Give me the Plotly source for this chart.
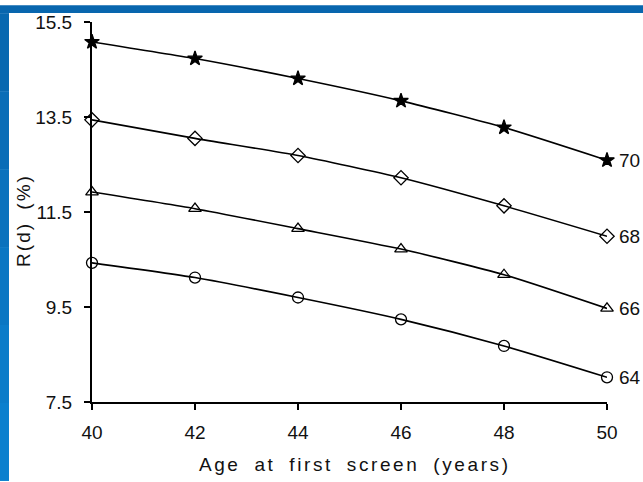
import plotly.graph_objects as go

ages = [40, 42, 44, 46, 48, 50]
series_labels = ["70", "68", "66", "64"]
r70 = [15.08, 14.73, 14.31, 13.84, 13.28, 12.59]
r68 = [13.44, 13.05, 12.69, 12.22, 11.63, 10.99]
r66 = [11.92, 11.57, 11.15, 10.72, 10.18, 9.47]
r64 = [10.43, 10.12, 9.70, 9.24, 8.68, 8.02]
x_ticks = [40, 42, 44, 46, 48, 50]
y_ticks = [7.5, 9.5, 11.5, 13.5, 15.5]

series = [r70, r68, r66, r64]
symbols = ["star", "diamond-open", "triangle-up-open", "circle-open"]
sizes = [11, 11, 11, 11]

W, H = 643, 482
L, R, T, B = 92, 36, 17, 80
pw, ph = W - L - R, H - T - B
FONT = "Liberation Sans, Arial, Helvetica"

fig = go.Figure()
for vals, sym, sz in zip(series, symbols, sizes):
    fig.add_trace(go.Scatter(
        x=ages, y=vals, mode="lines+markers",
        line=dict(color="black", width=1.6, shape="spline", smoothing=0.6),
        marker=dict(symbol=sym, size=sz, color="black",
                    line=dict(color="black", width=1.3)),
        showlegend=False, cliponaxis=False,
    ))

for vals, lab in zip(series, series_labels):
    fig.add_annotation(x=ages[-1], y=vals[-1], text=lab, showarrow=False,
                       xanchor="left", yanchor="middle", xshift=10, yshift=0,
                       font=dict(family=FONT, size=19, color="#111"))

def px_x(p):
    return (p - L) / pw

def px_y(p):
    return 1 - (p - T) / ph

shapes = [
    dict(type="rect", xref="paper", yref="paper", x0=px_x(0), x1=px_x(W),
         y0=px_y(8), y1=px_y(0), fillcolor="#0866AE", line=dict(width=0), layer="above"),
]
blues = ["#0868B0", "#096DB7", "#0A72BD", "#0A77C3", "#0B7CC9", "#0B80CE"]
n = len(blues)
for i, c in enumerate(blues):
    y0p = 8 + (H - 8) * i / n
    y1p = 8 + (H - 8) * (i + 1) / n
    shapes.append(dict(type="rect", xref="paper", yref="paper", x0=px_x(0), x1=px_x(9),
                       y0=px_y(y1p), y1=px_y(y0p), fillcolor=c, line=dict(width=0), layer="above"))

fig.add_annotation(xref="paper", yref="paper", x=px_x(23), y=px_y(218),
                   xanchor="center", yanchor="middle",
                   text="R(d) (%)", textangle=-90, showarrow=False,
                   font=dict(family=FONT, size=19, color="#111"))
fig.add_annotation(xref="paper", yref="paper", x=px_x(355), y=px_y(465),
                   xanchor="center", yanchor="middle",
                   text="Age at first screen (years)", showarrow=False,
                   font=dict(family=FONT, size=19, color="#111"))

fig.update_layout(
    width=W, height=H, margin=dict(l=L, r=R, t=T, b=B),
    paper_bgcolor="white", plot_bgcolor="white",
    shapes=shapes,
    xaxis=dict(range=[40, 50], tickvals=x_ticks, ticks="outside", ticklen=6,
               tickwidth=1.5, tickcolor="black", showline=True, linecolor="black",
               linewidth=2, showgrid=False, zeroline=False, ticklabelstandoff=6,
               tickfont=dict(family=FONT, size=19, color="#111")),
    yaxis=dict(range=[7.5, 15.5], tickvals=y_ticks, ticktext=[f"{v:.1f}" for v in y_ticks],
               ticks="outside", ticklen=6, tickwidth=1.5, tickcolor="black",
               showline=True, linecolor="black", linewidth=2, showgrid=False, zeroline=False,
               ticklabelstandoff=8,
               tickfont=dict(family=FONT, size=19, color="#111")),
)

post = """
document.body.style.margin = '0';
document.body.style.overflow = 'hidden';
var gd = document.getElementById('{plot_id}');
gd.querySelectorAll('.annotation-text').forEach(function(t) {
  var s = t.textContent;
  if (s.indexOf('Age') === 0) { t.style.letterSpacing = '2.6px'; t.style.wordSpacing = '6px'; }
  else if (s.indexOf('R(d)') === 0) { t.style.letterSpacing = '2px'; t.style.wordSpacing = '5px'; }
});
"""

fig.write_html("out.html", post_script=post, config={"displayModeBar": False})
